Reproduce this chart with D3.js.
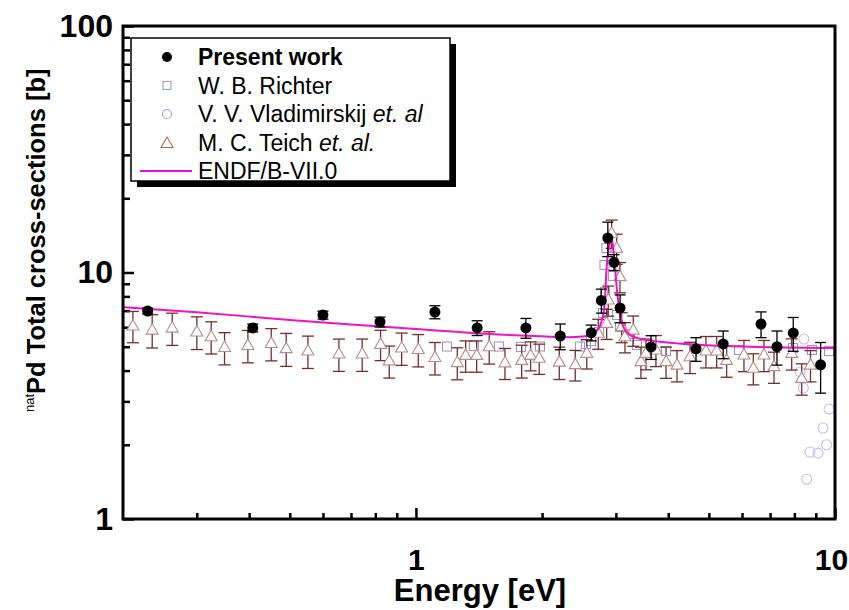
<!DOCTYPE html>
<html>
<head>
<meta charset="utf-8">
<script src="https://cdn.jsdelivr.net/npm/d3@7"></script>
<style>
  html, body { margin: 0; padding: 0; background: #fff; }
  svg { display: block; font-family: "Liberation Sans", Arial, sans-serif; }
</style>
</head>
<body>
<svg id="chart" width="849" height="610"></svg>
<script>
// Present work: energy (eV), total cross-section (b), uncertainty (b)
const presentE = [0.229, 0.408, 0.600, 0.821, 1.11, 1.40, 1.83, 2.21, 2.62, 2.77, 2.87, 2.97, 3.07, 3.64, 4.66, 5.41, 6.66, 7.27, 7.95, 9.24];
const presentS = [6.98, 5.96, 6.72, 6.30, 6.91, 5.96, 5.96, 5.52, 5.70, 7.70, 13.8, 11.0, 7.18, 4.99, 4.90, 5.13, 6.18, 5.00, 5.68, 4.22];
const presentErr = [0.19, 0.22, 0.25, 0.29, 0.42, 0.41, 0.55, 0.66, 0.42, 0.86, 2.2, 0.81, 0.93, 0.55, 0.54, 0.66, 0.74, 0.79, 0.89, 0.98];

// W. B. Richter
const richterE = [1.186, 1.375, 1.578, 1.781, 1.977, 2.463, 2.545, 2.617, 2.734, 2.795, 2.826, 2.818, 2.849, 2.953, 3.018, 3.068, 3.242, 3.368, 3.952, 5.90, 7.94, 8.81, 9.68];
const richterS = [5.01, 5.03, 5.01, 4.99, 5.01, 5.01, 5.13, 5.27, 5.74, 6.85, 8.33, 10.73, 12.57, 9.68, 6.72, 6.01, 5.63, 5.08, 4.80, 4.85, 4.94, 4.85, 4.80];

// V. V. Vladimirskij et al.
const vladE = [8.43, 8.25, 8.40, 9.68, 9.36, 9.55, 9.11, 8.72, 8.56];
const vladS = [5.37, 3.95, 3.40, 2.79, 2.34, 2.00, 1.85, 1.87, 1.45];

// M. C. Teich et al.
const teichE = [0.2112, 0.2348, 0.2621, 0.3001, 0.3247, 0.3494, 0.3972, 0.4516, 0.4903, 0.5524, 0.6549, 0.7444, 0.8235, 0.8636, 0.9245, 1.013, 1.110, 1.255, 1.314, 1.396, 1.496, 1.631, 1.788, 1.878, 1.969, 2.198, 2.400, 2.557, 2.723, 2.852, 2.877, 2.931, 3.013, 3.068, 3.097, 3.154, 3.301, 3.443, 3.539, 3.739, 3.952, 4.198, 4.508, 4.921, 5.220, 5.513, 6.064, 6.384, 6.768, 7.152, 7.882, 8.328, 8.740];
const teichS = [6.07, 5.84, 5.95, 5.74, 5.49, 4.96, 5.06, 5.15, 4.91, 4.80, 4.67, 4.67, 5.11, 4.38, 4.94, 4.87, 4.52, 4.31, 4.61, 4.61, 5.00, 4.30, 4.40, 4.61, 4.49, 4.33, 4.23, 4.70, 5.67, 6.22, 7.73, 14.42, 12.54, 9.62, 6.03, 5.49, 5.84, 4.35, 4.70, 4.85, 4.35, 4.21, 4.55, 4.80, 4.80, 4.40, 4.63, 4.09, 4.63, 4.15, 4.70, 3.72, 4.21];
const teichErr = [0.88, 0.90, 0.89, 0.87, 0.82, 0.74, 0.76, 0.77, 0.75, 0.72, 0.70, 0.70, 0.72, 0.65, 0.74, 0.73, 0.68, 0.64, 0.67, 0.67, 0.75, 0.62, 0.67, 0.62, 0.63, 0.65, 0.60, 0.64, 0.79, 0.87, 1.08, 1.89, 1.76, 1.35, 0.84, 0.77, 0.82, 0.63, 0.67, 0.70, 0.63, 0.61, 0.66, 0.70, 0.70, 0.64, 0.67, 0.59, 0.67, 0.60, 0.68, 0.54, 0.61];

// ENDF/B-VII.0 evaluated curve
const endfE = [0.2, 0.3, 0.5, 0.7, 1.0, 1.5, 2.0, 2.3, 2.5, 2.6, 2.7, 2.77, 2.82, 2.852, 2.893, 2.925, 2.948, 2.985, 3.022, 3.068, 3.124, 3.24, 3.30, 3.82, 6.27, 10];
const endfS = [7.24, 6.90, 6.42, 6.15, 5.90, 5.63, 5.51, 5.46, 5.50, 5.58, 5.79, 6.30, 7.45, 10.56, 12.93, 13.9, 13.1, 10.56, 8.26, 6.85, 6.03, 5.58, 5.49, 5.24, 5.00, 4.94];

// Axis ticks and legend labels
const xMajor = [1, 10];
const xMinor = [0.3, 0.4, 0.5, 0.6, 0.7, 0.8, 0.9, 2, 3, 4, 5, 6, 7, 8, 9];
const yMajor = [1, 10, 100];
const yMinor = [2, 3, 4, 5, 6, 7, 8, 9, 20, 30, 40, 50, 60, 70, 80, 90];
const legendLabels = ["Present work", "W. B. Richter", "V. V. Vladimirskij", "M. C. Teich", "ENDF/B-VII.0"];

const svg = d3.select("#chart");
const L = 123, R = 835, T = 26, B = 519;

const x = d3.scaleLog().domain([0.2, 10]).range([L, R]);
const y = d3.scaleLog().domain([1, 100]).range([B, T]);

const colors = {
  present: "#000000",
  richter: "#9a9ac4",
  vlad: "#c4bdf0",
  teich: "#b48c8c",
  teichBar: "#7a2c2c",
  endf: "#f012c4"
};

const present = presentE.map((e, i) => ({ e, s: presentS[i], err: presentErr[i] }));
const richter = richterE.map((e, i) => ({ e, s: richterS[i] }));
const vlad = vladE.map((e, i) => ({ e, s: vladS[i] }));
const teich = teichE.map((e, i) => ({ e, s: teichS[i], err: teichErr[i] }));
const endf = endfE.map((e, i) => ({ e, s: endfS[i] }));

const triPath = "M0,-6.5L6,4L-6,4Z";

// Axis ticks (inward), labels on majors only
function styleAxis(size) {
  return g => {
    g.select(".domain").remove();
    g.selectAll(".tick line").attr("stroke", "#000").attr("stroke-width", 2.5);
    g.selectAll(".tick text").attr("fill", "#000").attr("font-size", size).attr("font-weight", "bold")
      .attr("font-family", "'Liberation Sans', Arial, sans-serif");
  };
}
svg.append("g").attr("transform", `translate(0,${B})`)
  .call(d3.axisBottom(x).tickValues(xMinor).tickSize(-6).tickFormat(""))
  .call(styleAxis(30));
svg.append("g").attr("transform", `translate(0,${B})`)
  .call(d3.axisBottom(x).tickValues(xMajor).tickSize(-11).tickPadding(30).tickFormat(d3.format("d")))
  .call(styleAxis(30))
  // keep the last label inside the page edge
  .call(g => g.selectAll(".tick text").filter(d => d === 10).attr("dx", -4));
svg.append("g").attr("transform", `translate(${L},0)`)
  .call(d3.axisLeft(y).tickValues(yMinor).tickSize(-7).tickFormat(""))
  .call(styleAxis(32));
svg.append("g").attr("transform", `translate(${L},0)`)
  .call(d3.axisLeft(y).tickValues(yMajor).tickSize(-11).tickPadding(10).tickFormat(d3.format("d")))
  .call(styleAxis(32));

const plot = svg.append("g");

// Vladimirskij: open circles
plot.append("g").selectAll("circle").data(vlad).join("circle")
  .attr("cx", d => x(d.e)).attr("cy", d => y(d.s)).attr("r", 5)
  .attr("fill", "none").attr("stroke", colors.vlad).attr("stroke-width", 1.1);

// Richter: open squares
plot.append("g").selectAll("rect").data(richter).join("rect")
  .attr("x", d => x(d.e) - 4.5).attr("y", d => y(d.s) - 4.5)
  .attr("width", 9).attr("height", 9)
  .attr("fill", "none").attr("stroke", colors.richter).attr("stroke-width", 1.1);

// Teich: error bars then open triangles
const tb = plot.append("g").attr("stroke", colors.teichBar).attr("stroke-width", 1.3);
teich.forEach(d => {
  const cx = x(d.e), y1 = y(d.s + d.err), y0 = y(d.s - d.err);
  tb.append("line").attr("x1", cx).attr("x2", cx).attr("y1", y1).attr("y2", y0);
  tb.append("line").attr("x1", cx - 6).attr("x2", cx + 6).attr("y1", y1).attr("y2", y1);
  tb.append("line").attr("x1", cx - 6).attr("x2", cx + 6).attr("y1", y0).attr("y2", y0);
});
plot.append("g").selectAll("path").data(teich).join("path")
  .attr("d", triPath)
  .attr("transform", d => `translate(${x(d.e)},${y(d.s)})`)
  .attr("fill", "#fff").attr("stroke", colors.teich).attr("stroke-width", 1.1);

// ENDF curve
plot.append("path").datum(endf)
  .attr("d", d3.line().x(d => x(d.e)).y(d => y(d.s)).curve(d3.curveMonotoneX))
  .attr("fill", "none").attr("stroke", colors.endf).attr("stroke-width", 2);

// Present work: error bars and filled circles
const pb = plot.append("g").attr("stroke", "#000").attr("stroke-width", 1.3);
present.forEach(d => {
  const cx = x(d.e), y1 = y(d.s + d.err), y0 = y(d.s - d.err);
  pb.append("line").attr("x1", cx).attr("x2", cx).attr("y1", y1).attr("y2", y0);
  pb.append("line").attr("x1", cx - 5.5).attr("x2", cx + 5.5).attr("y1", y1).attr("y2", y1);
  pb.append("line").attr("x1", cx - 5.5).attr("x2", cx + 5.5).attr("y1", y0).attr("y2", y0);
});
plot.append("g").selectAll("circle").data(present).join("circle")
  .attr("cx", d => x(d.e)).attr("cy", d => y(d.s)).attr("r", 5.5).attr("fill", "#000");

// Frame
svg.append("rect").attr("x", L).attr("y", T).attr("width", R - L).attr("height", B - T)
  .attr("fill", "none").attr("stroke", "#000").attr("stroke-width", 3);

// Axis titles
svg.append("text").attr("x", 480).attr("y", 601).attr("text-anchor", "middle")
  .attr("font-size", 31).attr("font-weight", "bold").text("Energy [eV]");
const yt = svg.append("text").attr("transform", "translate(45,412) rotate(-90)")
  .attr("font-size", 25.5).attr("font-weight", "bold");
yt.append("tspan").attr("font-size", 13).attr("font-weight", "normal").attr("dy", -11).text("nat");
yt.append("tspan").attr("dy", 11).text("Pd Total cross-sections [b]");

// Legend
const lg = svg.append("g");
lg.append("rect").attr("x", 137).attr("y", 44).attr("width", 319).attr("height", 143).attr("fill", "#000");
lg.append("rect").attr("x", 131).attr("y", 38).attr("width", 319).attr("height", 143)
  .attr("fill", "#fff").attr("stroke", "#000").attr("stroke-width", 1.5);
const rowY = [57, 85.5, 114, 142.5, 171];
const sx = 167, tx = 198;
lg.append("circle").attr("cx", sx).attr("cy", rowY[0]).attr("r", 5).attr("fill", "#000");
lg.append("rect").attr("x", sx - 4).attr("y", rowY[1] - 4).attr("width", 8).attr("height", 8)
  .attr("fill", "none").attr("stroke", colors.richter).attr("stroke-width", 1.1);
lg.append("circle").attr("cx", sx).attr("cy", rowY[2]).attr("r", 4.5)
  .attr("fill", "none").attr("stroke", "#a89ae8").attr("stroke-width", 1.1);
lg.append("path").attr("d", triPath).attr("transform", `translate(${sx},${rowY[3] + 1})`)
  .attr("fill", "#fff").attr("stroke", "#a07070").attr("stroke-width", 1.1);
lg.append("line").attr("x1", 140).attr("x2", 192).attr("y1", rowY[4]).attr("y2", rowY[4])
  .attr("stroke", "#e010e0").attr("stroke-width", 1.8);

const fs = 23;
lg.append("text").attr("x", tx).attr("y", rowY[0] + 8).attr("font-size", fs).attr("font-weight", "bold").text(legendLabels[0]);
lg.append("text").attr("x", tx).attr("y", rowY[1] + 8).attr("font-size", fs).text(legendLabels[1]);
const l3 = lg.append("text").attr("x", tx).attr("y", rowY[2] + 8).attr("font-size", fs);
l3.append("tspan").text(legendLabels[2] + " ");
l3.append("tspan").attr("font-style", "italic").text("et. al");
const l4 = lg.append("text").attr("x", tx).attr("y", rowY[3] + 8).attr("font-size", fs);
l4.append("tspan").text(legendLabels[3] + " ");
l4.append("tspan").attr("font-style", "italic").text("et. al.");
lg.append("text").attr("x", tx).attr("y", rowY[4] + 8).attr("font-size", fs).text(legendLabels[4]);
</script>
</body>
</html>
